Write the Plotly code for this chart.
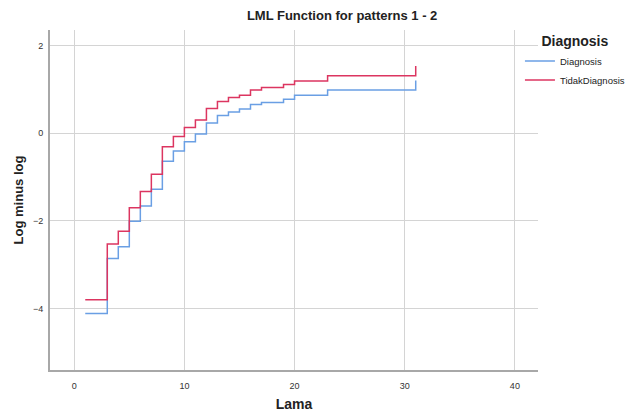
import plotly.graph_objects as go

# Data
lama = [1, 3, 4, 5, 6, 7, 8, 9, 10, 11, 12, 13, 14, 15, 16, 17, 19, 20, 23, 31]
diagnosis = [-4.11, -2.86, -2.59, -2.01, -1.66, -1.28, -0.64, -0.41, -0.20, -0.02,
             0.23, 0.40, 0.48, 0.55, 0.65, 0.70, 0.77, 0.86, 0.98, 1.20]
tidak_diagnosis = [-3.80, -2.53, -2.24, -1.70, -1.33, -0.94, -0.31, -0.08, 0.13, 0.30,
                   0.56, 0.72, 0.81, 0.86, 0.98, 1.04, 1.11, 1.19, 1.31, 1.53]
series_names = ["Diagnosis", "TidakDiagnosis"]
x_ticks = [0, 10, 20, 30, 40]
y_ticks = [-4, -2, 0, 2]

FONT = "Liberation Sans, Arial, sans-serif"

fig = go.Figure()
fig.add_trace(go.Scatter(x=lama, y=diagnosis, name=series_names[0], mode="lines",
                         line=dict(shape="hv", color="#6a9fe4", width=1.5)))
fig.add_trace(go.Scatter(x=lama, y=tidak_diagnosis, name=series_names[1], mode="lines",
                         line=dict(shape="hv", color="#dc3560", width=1.5)))

# The page body adds an 8px margin, so the figure is sized to fit the 636x412 window
fig.update_layout(
    width=628, height=404,
    margin=dict(l=42, r=98, t=22, b=42, autoexpand=False),
    paper_bgcolor="white", plot_bgcolor="white",
    font=dict(family=FONT, color="#222"),
    title=dict(text="<b>LML Function for patterns 1 - 2</b>", x=0.532, xanchor="center",
               xref="container", y=0.982, yanchor="middle", yref="container",
               font=dict(size=13, color="#222")),
    legend=dict(title=dict(text="<b>Diagnosis</b>", font=dict(size=14, color="#222"),
                           side="top center"),
                x=0.963, xanchor="left", y=1.005, yanchor="top",
                font=dict(size=9.5, color="#222"), tracegroupgap=0,
                itemwidth=30, bgcolor="rgba(0,0,0,0)"),
    showlegend=True,
)
fig.update_xaxes(range=[-2.2, 42.1], tickvals=x_ticks, showgrid=True, gridcolor="#d4d4d4",
                 gridwidth=1, zeroline=False, showline=True, linecolor="#a8a8a8", linewidth=2,
                 ticks="", tickfont=dict(size=9, color="#333"), ticklabelstandoff=6,
                 automargin=False,
                 title=dict(text="<b>Lama</b>", font=dict(size=14, color="#222"), standoff=14))
fig.update_yaxes(range=[-5.4, 2.35], tickvals=y_ticks, showgrid=True, gridcolor="#d4d4d4",
                 gridwidth=1, zeroline=False, showline=True, linecolor="#a8a8a8", linewidth=2,
                 ticks="", tickfont=dict(size=9, color="#333"), ticklabelstandoff=3,
                 automargin=False,
                 title=dict(text="<b>Log minus log</b>", font=dict(size=13, color="#222"), standoff=6))

fig.write_html("out.html")
